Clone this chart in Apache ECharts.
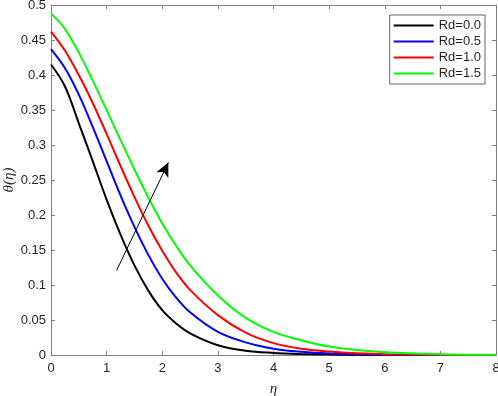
<!DOCTYPE html>
<html>
<head>
<meta charset="utf-8">
<script src="https://cdn.jsdelivr.net/npm/echarts@6/dist/echarts.min.js"></script>
<style>html,body{margin:0;padding:0;background:#fff}#c{width:498px;height:396px}</style>
</head>
<body>
<div id="c"></div>
<script>
var eta = [0,0.25,0.5,0.75,1,1.25,1.5,1.75,2,2.25,2.5,3,3.5,4,4.5,5,5.5,6,7,8];
var rd00 = [0.415,0.384,0.331,0.277,0.222,0.172,0.128,0.092,0.064,0.045,0.031,0.014,0.006,0.003,0.0015,0.0007,0.0003,0.0001,0,0];
var rd05 = [0.437,0.410,0.372,0.326,0.277,0.228,0.183,0.143,0.109,0.082,0.061,0.033,0.018,0.009,0.0045,0.002,0.001,0.0005,0.0001,0];
var rd10 = [0.462,0.435,0.400,0.360,0.316,0.270,0.226,0.185,0.149,0.118,0.093,0.057,0.032,0.017,0.009,0.005,0.0025,0.0012,0.0003,0];
var rd15 = [0.488,0.466,0.432,0.392,0.350,0.307,0.265,0.225,0.188,0.156,0.128,0.085,0.053,0.033,0.021,0.012,0.007,0.004,0.001,0.0002];
var seriesNames = ['Rd=0.0','Rd=0.5','Rd=1.0','Rd=1.5'];
var seriesColors = ['#000000','#0000ff','#ff0000','#00ff00'];
var arrowFrom = [1.18, 0.121];
var arrowTo = [2.11, 0.275];

var values = [rd00, rd05, rd10, rd15];
var font = '"Liberation Sans", Arial, sans-serif';
var axisGray = '#808080';
var textCol = '#262626';

var series = values.map(function(v, i){
  return {
    name: seriesNames[i], type: 'line', smooth: 0.35, symbol: 'none',
    data: eta.map(function(x, j){ return [x, v[j]]; }),
    lineStyle: {color: seriesColors[i], width: 2},
    itemStyle: {color: seriesColors[i]},
    z: 3
  };
});
series[0].markLine = {
  silent: true, symbol: ['none','arrow'], symbolSize: [10, 14],
  label: {show: false},
  lineStyle: {color: '#000', width: 1, type: 'solid'},
  data: [[{coord: arrowFrom}, {coord: arrowTo}]]
};

var chart = echarts.init(document.getElementById('c'), null, {renderer: 'canvas'});
chart.setOption({
  animation: false,
  backgroundColor: '#fff',
  grid: {left: 51, right: 2, top: 5, bottom: 41, containLabel: false, outerBoundsMode: 'none'},
  legend: {
    orient: 'vertical', right: 13, top: 15,
    data: seriesNames.map(function(n){ return {name: n, icon: 'rect'}; }),
    itemWidth: 40, itemHeight: 2, itemGap: 3,
    padding: [4, 4, 4, 4],
    backgroundColor: '#fff', borderColor: '#666', borderWidth: 1, borderRadius: 0,
    textStyle: {fontFamily: font, fontSize: 13, color: textCol, lineHeight: 12}
  },
  xAxis: [{
    type: 'value', min: 0, max: 8, interval: 1, position: 'bottom',
    name: 'η', nameLocation: 'middle', nameGap: 27, nameMoveOverlap: false,
    nameTextStyle: {fontFamily: '"Liberation Serif", "Times New Roman", serif', fontStyle: 'italic', fontSize: 15, color: textCol},
    axisLine: {show: true, onZero: false, lineStyle: {color: axisGray, width: 1}},
    axisTick: {show: true, inside: true, length: 4, lineStyle: {color: axisGray}},
    axisLabel: {fontFamily: font, fontSize: 13, color: textCol, margin: 7},
    splitLine: {show: false}
  }, {
    type: 'value', min: 0, max: 8, interval: 1, position: 'top',
    axisLine: {show: true, onZero: false, lineStyle: {color: axisGray, width: 1}},
    axisTick: {show: true, inside: true, length: 4, lineStyle: {color: axisGray}},
    axisLabel: {show: false}, splitLine: {show: false}
  }],
  yAxis: [{
    type: 'value', min: 0, max: 0.5, interval: 0.05, position: 'left',
    name: 'θ(η)', nameLocation: 'middle', nameGap: 34, nameRotate: 90, nameMoveOverlap: false,
    nameTextStyle: {fontFamily: '"Liberation Serif", "Times New Roman", serif', fontStyle: 'italic', fontSize: 15, color: textCol},
    axisLine: {show: true, onZero: false, lineStyle: {color: axisGray, width: 1}},
    axisTick: {show: true, inside: true, length: 4, lineStyle: {color: axisGray}},
    axisLabel: {fontFamily: font, fontSize: 13, color: textCol, margin: 5,
      formatter: function(v){ return String(+v.toFixed(2)); }},
    splitLine: {show: false}
  }, {
    type: 'value', min: 0, max: 0.5, interval: 0.05, position: 'right',
    axisLine: {show: true, onZero: false, lineStyle: {color: axisGray, width: 1}},
    axisTick: {show: true, inside: true, length: 4, lineStyle: {color: axisGray}},
    axisLabel: {show: false}, splitLine: {show: false}
  }],
  series: series
});
</script>
</body>
</html>
